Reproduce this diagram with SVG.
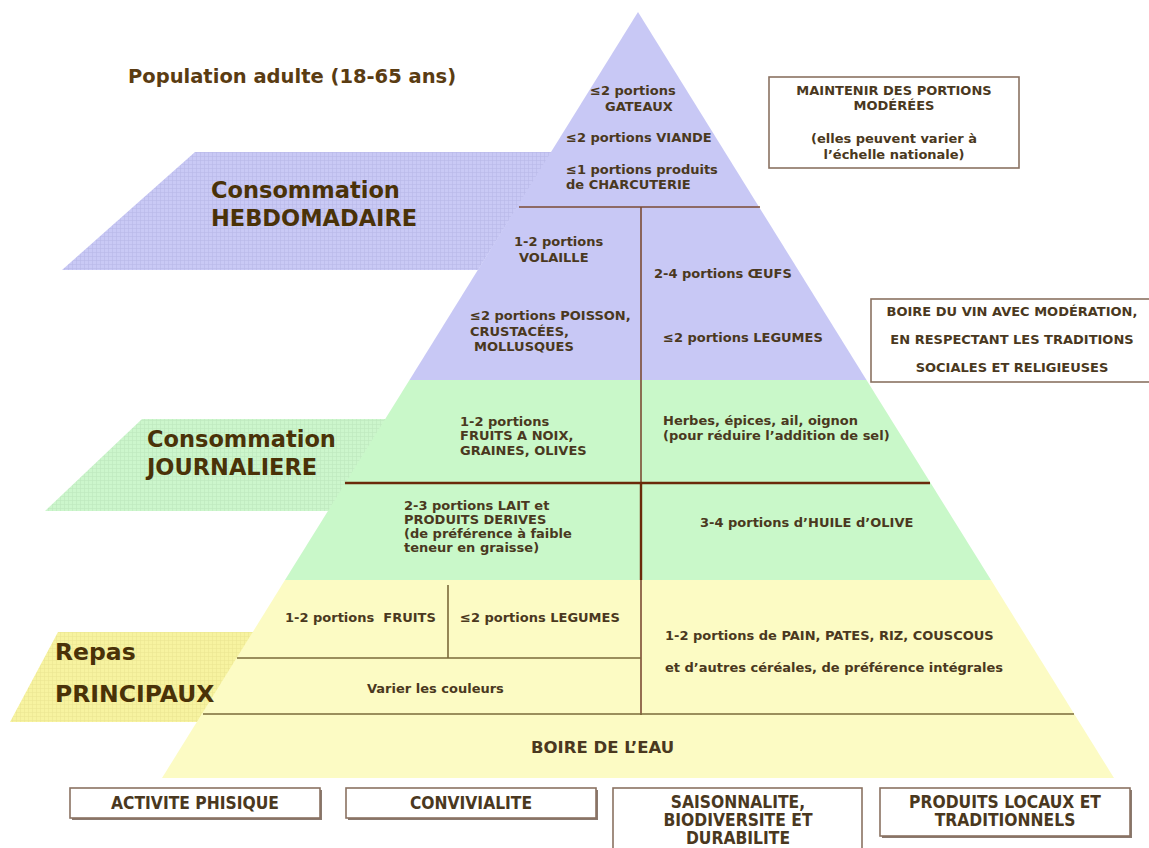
<svg xmlns="http://www.w3.org/2000/svg" width="1149" height="848" viewBox="0 0 1149 848">
<style>
  text { font-family: "DejaVu Sans", Verdana, sans-serif; font-weight: bold; fill: #4a3820; }
  .s { font-size: 13px; }
  .big { font-size: 22.5px; fill: #4a3208; }
  .rep { font-size: 23.5px; fill: #4a3208; }
  .pop { font-size: 19.5px; fill: #5a3c12; }
  .eau { font-size: 16.5px; }
  .nar { font-family: "DejaVu Sans Condensed", "DejaVu Sans", sans-serif; font-stretch: condensed; font-size: 17.3px; fill: #4a3820; }
  .box { fill: #ffffff; stroke: #8a7262; stroke-width: 1.6; }
  .sh { fill: #8a7a70; }
  .ln1 { stroke: #7b4b34; stroke-width: 1.6; }
  .ln2 { stroke: #6a2a0a; stroke-width: 2.4; }
  .ln3 { stroke: #7a6a3a; stroke-width: 1.6; }
</style>
<defs>
  <pattern id="gridB" width="4" height="4" patternUnits="userSpaceOnUse">
    <rect width="4" height="4" fill="#c9c9f5"/>
    <path d="M0 0.5H4M0.5 0V4" stroke="#b8b8e8" stroke-width="0.6"/>
  </pattern>
  <pattern id="gridG" width="4" height="4" patternUnits="userSpaceOnUse">
    <rect width="4" height="4" fill="#ccf6cc"/>
    <path d="M0 0.5H4M0.5 0V4" stroke="#bde8bd" stroke-width="0.6"/>
  </pattern>
  <pattern id="gridY" width="4" height="4" patternUnits="userSpaceOnUse">
    <rect width="4" height="4" fill="#f7f3a0"/>
    <path d="M0 0.5H4M0.5 0V4" stroke="#ebe592" stroke-width="0.6"/>
  </pattern>
</defs>
<rect width="1149" height="848" fill="#ffffff"/>

<g id="band-hebdomadaire">
  <polygon points="195,152 552,152 478,270 62,270" fill="url(#gridB)"/>
</g>
<g id="band-journaliere">
  <polygon points="142,419 386,419 329,511 45,511" fill="url(#gridG)"/>
</g>
<g id="band-repas">
  <polygon points="58,632 254,632 198,722 10,722" fill="url(#gridY)"/>
</g>

<g id="pyramid">
  <polygon id="tier-blue" points="638,12 866.5,380 409.5,380" fill="#c8c8f5"/>
  <polygon id="tier-green" points="409.5,380 866.5,380 991,580 285,580" fill="#c9f8c9"/>
  <polygon id="tier-yellow" points="285,580 991,580 1114,778 162,778" fill="#fcfbc4"/>
</g>

<g id="dividers">
  <line class="ln1" x1="519" y1="207" x2="760" y2="207"/>
  <line class="ln1" x1="641" y1="207" x2="641" y2="483"/>
  <line class="ln2" x1="345" y1="483" x2="930" y2="483"/>
  <line class="ln2" x1="641" y1="483" x2="641" y2="580"/>
  <line class="ln1" x1="641" y1="580" x2="641" y2="715"/>
  <line class="ln3" x1="448" y1="585" x2="448" y2="658"/>
  <line class="ln3" x1="237" y1="658" x2="641" y2="658"/>
  <line class="ln3" x1="203" y1="714" x2="1074" y2="714"/>
</g>

<g id="title">
  <text class="pop" x="128" y="83">Population adulte (18-65 ans)</text>
</g>

<g id="label-hebdomadaire">
  <text class="big" x="211" y="198">Consommation</text>
  <text class="big" x="211" y="226">HEBDOMADAIRE</text>
</g>
<g id="label-journaliere">
  <text class="big" x="147" y="447">Consommation</text>
  <text class="big" x="147" y="475">JOURNALIERE</text>
</g>
<g id="label-repas">
  <text class="rep" x="55" y="660">Repas</text>
  <text class="rep" x="55" y="702">PRINCIPAUX</text>
</g>

<g id="cell-gateaux">
  <text class="s" x="590" y="95">≤2 portions</text>
  <text class="s" x="605" y="111">GATEAUX</text>
</g>
<g id="cell-viande">
  <text class="s" x="566" y="142">≤2 portions VIANDE</text>
</g>
<g id="cell-charcuterie">
  <text class="s" x="566" y="174">≤1 portions produits</text>
  <text class="s" x="566" y="189">de CHARCUTERIE</text>
</g>
<g id="cell-volaille">
  <text class="s" x="514" y="246">1-2 portions</text>
  <text class="s" x="519" y="262">VOLAILLE</text>
</g>
<g id="cell-oeufs">
  <text class="s" x="654" y="278">2-4 portions ŒUFS</text>
</g>
<g id="cell-poisson">
  <text class="s" x="470" y="320">≤2 portions POISSON,</text>
  <text class="s" x="470" y="336">CRUSTACÉES,</text>
  <text class="s" x="474" y="351">MOLLUSQUES</text>
</g>
<g id="cell-legumes-sec">
  <text class="s" x="663" y="342">≤2 portions LEGUMES</text>
</g>
<g id="cell-noix">
  <text class="s" x="460" y="426">1-2 portions</text>
  <text class="s" x="460" y="440">FRUITS A NOIX,</text>
  <text class="s" x="460" y="455">GRAINES, OLIVES</text>
</g>
<g id="cell-herbes">
  <text class="s" x="663" y="425">Herbes, épices, ail, oignon</text>
  <text class="s" x="663" y="440">(pour réduire l’addition de sel)</text>
</g>
<g id="cell-lait">
  <text class="s" x="404" y="510">2-3 portions LAIT et</text>
  <text class="s" x="404" y="524">PRODUITS DERIVES</text>
  <text class="s" x="404" y="538">(de préférence à faible</text>
  <text class="s" x="404" y="552">teneur en graisse)</text>
</g>
<g id="cell-huile">
  <text class="s" x="700" y="527">3-4 portions d’HUILE d’OLIVE</text>
</g>
<g id="cell-fruits">
  <text class="s" x="285" y="622" xml:space="preserve">1-2 portions  FRUITS</text>
</g>
<g id="cell-legumes">
  <text class="s" x="460" y="622">≤2 portions LEGUMES</text>
</g>
<g id="cell-couleurs">
  <text class="s" x="367" y="693">Varier les couleurs</text>
</g>
<g id="cell-cereales">
  <text class="s" x="665" y="640">1-2 portions de PAIN, PATES, RIZ, COUSCOUS</text>
  <text class="s" x="665" y="672">et d’autres céréales, de préférence intégrales</text>
</g>
<g id="cell-eau">
  <text class="eau" x="531" y="753">BOIRE DE L’EAU</text>
</g>

<g id="box-portions">
  <rect class="box" x="769" y="77" width="250" height="91"/>
  <text class="s" x="894" y="95" text-anchor="middle">MAINTENIR DES PORTIONS</text>
  <text class="s" x="894" y="110" text-anchor="middle">MODÉRÉES</text>
  <text class="s" x="894" y="143" text-anchor="middle">(elles peuvent varier à</text>
  <text class="s" x="894" y="159" text-anchor="middle">l’échelle nationale)</text>
</g>
<g id="box-vin">
  <rect class="box" x="871" y="299" width="280" height="83"/>
  <text class="s" x="1012" y="316" text-anchor="middle">BOIRE DU VIN AVEC MODÉRATION,</text>
  <text class="s" x="1012" y="344" text-anchor="middle">EN RESPECTANT LES TRADITIONS</text>
  <text class="s" x="1012" y="372" text-anchor="middle">SOCIALES ET RELIGIEUSES</text>
</g>

<g id="box-activite">
  <rect class="sh" x="72" y="790" width="250" height="30"/>
  <rect class="box" x="70" y="788" width="250" height="30"/>
  <text class="nar" x="195" y="809" text-anchor="middle">ACTIVITE PHISIQUE</text>
</g>
<g id="box-convivialite">
  <rect class="sh" x="348" y="790" width="250" height="30"/>
  <rect class="box" x="346" y="788" width="250" height="30"/>
  <text class="nar" x="471" y="809" text-anchor="middle">CONVIVIALITE</text>
</g>
<g id="box-saisonnalite">
  <rect class="box" x="613" y="788" width="249" height="64"/>
  <text class="nar" x="738" y="808" text-anchor="middle">SAISONNALITE,</text>
  <text class="nar" x="738" y="826" text-anchor="middle">BIODIVERSITE ET</text>
  <text class="nar" x="738" y="844" text-anchor="middle">DURABILITE</text>
</g>
<g id="box-produits">
  <rect class="sh" x="882" y="790" width="250" height="48"/>
  <rect class="box" x="880" y="788" width="250" height="48"/>
  <text class="nar" x="1005" y="808" text-anchor="middle">PRODUITS LOCAUX ET</text>
  <text class="nar" x="1005" y="826" text-anchor="middle">TRADITIONNELS</text>
</g>
</svg>
